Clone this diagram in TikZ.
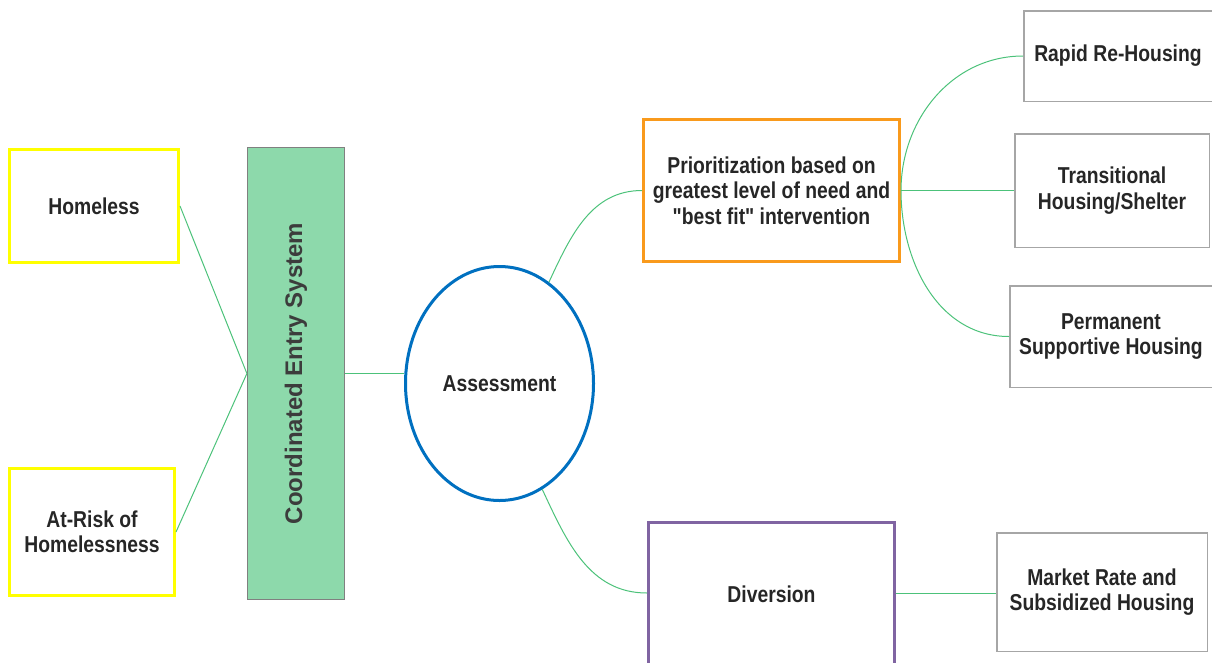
\documentclass[tikz,border=0pt]{standalone}
\usepackage{graphicx}
\usepackage{fontspec}
\usetikzlibrary{shapes.geometric}
\newfontfamily\boxfont[FakeStretch=0.84]{Liberation Sans}
\newfontfamily\sidefont{Liberation Sans}
\definecolor{inyellow}{HTML}{FFFF00}
\definecolor{prioorange}{HTML}{F99A1C}
\definecolor{divpurple}{HTML}{8064A2}
\definecolor{assessblue}{HTML}{0070C0}
\definecolor{boxgray}{HTML}{A6A6A6}
\definecolor{cesgreen}{HTML}{8DD9AB}
\definecolor{linkgreen}{HTML}{4CC27A}
\definecolor{textgray}{HTML}{262626}
\tikzset{
  box/.style={draw, inner sep=0pt, align=center, text=textgray,
    font=\boxfont\bfseries\fontsize{23}{25.5}\selectfont},
  entry/.style={box, draw=inyellow, line width=3pt},
  outcome/.style={box, draw=boxgray, line width=1.5pt},
  link/.style={draw=linkgreen, line width=1pt}
}
\begin{document}
\begin{tikzpicture}[x=1pt,y=1pt]
\useasboundingbox (0,0) rectangle (1212,-662);
\clip (0,0) rectangle (1212,-662);
\node[entry, minimum width=169pt, minimum height=113pt] (homeless) at (94,-206) {Homeless};
\node[entry, minimum width=165pt, minimum height=127pt] (atrisk) at (92,-532) {At-Risk of\\Homelessness};
\node[box, draw=gray, line width=1.2pt, fill=cesgreen, minimum width=97pt, minimum height=452pt,
  font=\sidefont\bfseries\fontsize{24}{26}\selectfont, text=textgray!90] (ces) at (296,-373.5)
  {\rotatebox{90}{Coordinated Entry System}};
\node[box, ellipse, draw=assessblue, line width=3pt, minimum width=188pt, minimum height=234pt] (assess) at (499.5,-383.5) {Assessment};
\node[box, draw=prioorange, line width=3pt, minimum width=256pt, minimum height=142pt] (prio) at (771.5,-190.5)
  {Prioritization based on\\greatest level of need and\\"best fit" intervention};
\node[box, draw=divpurple, line width=3pt, minimum width=246pt, minimum height=146pt] (divert) at (771.5,-595) {\raisebox{2pt}{Diversion}};
\node[outcome, minimum width=188.5pt, minimum height=90.5pt] (rapid) at (1118,-56) {Rapid Re-Housing};
\node[outcome, minimum width=194.5pt, minimum height=113.5pt] (trans) at (1112,-190.5) {Transitional\\Housing/Shelter};
\node[outcome, minimum width=202.5pt, minimum height=101.5pt] (perm) at (1111,-336.5) {Permanent\\Supportive Housing};
\node[outcome, minimum width=210.5pt, minimum height=118.5pt] (market) at (1102,-592) {Market Rate and\\Subsidized Housing};
\coordinate (divin) at ([yshift=2pt]divert.west);

\draw[link] (homeless.east) -- (ces.west);
\draw[link] (atrisk.east) -- (ces.west);
\draw[link] (ces.east) -- (ces.east -| assess.west);
\draw[link] (assess.64) to[out=65,in=180] (prio.west);
\draw[link] (assess.-68) to[out=-65,in=180] (divin);
\draw[link] (prio.east) to[out=90,in=180] (rapid.west);
\draw[link] (prio.east) -- (trans.west);
\draw[link] (prio.east) to[out=-90,in=180] (perm.west);
\draw[link] (divin -| divert.east) -- (divin -| market.west);
\end{tikzpicture}
\end{document}
